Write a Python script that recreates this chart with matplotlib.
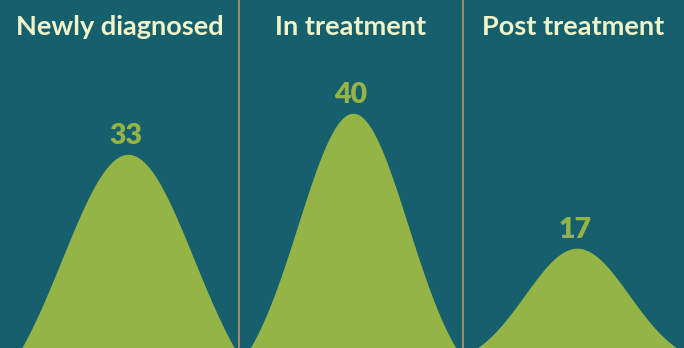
import numpy as np
import matplotlib
matplotlib.use("Agg")
import matplotlib.pyplot as plt

# data
stages = ["Newly diagnosed", "In treatment", "Post treatment"]
values = [33, 40, 17]

# layout / style (pixels, figure is 684 x 348)
W, H = 684, 348
edges = [0, 239, 463, 684]
peak_x = [128, 353, 577]
sigma = [66, 55, 52]
sink = [12.4, 8.4, 3.2]      # curve baseline sits below the frame
ymax = 59.3

bg = "#16606e"
green = "#95b446"
cream = "#f1f3c8"
divider = "#b08f6a"

plt.rcParams["font.family"] = ["Lato", "DejaVu Sans"]

fig = plt.figure(figsize=(W / 100, H / 100), dpi=100)
fig.patch.set_facecolor(bg)
ax = fig.add_axes([0, 0, 1, 1])
ax.set_facecolor(bg)
ax.set_xlim(0, W)
ax.set_ylim(0, ymax)
ax.axis("off")

for i, (name, v) in enumerate(zip(stages, values)):
    x = np.linspace(edges[i], edges[i + 1], 400)
    y = (v + sink[i]) * np.exp(-(x - peak_x[i]) ** 2 / (2 * sigma[i] ** 2)) - sink[i]
    y = np.clip(y, 0, None)
    ax.fill_between(x, 0, y, color=green, lw=0)
    ax.annotate(str(v), (peak_x[i] - 2, v), xytext=(0, 7.5), textcoords="offset points",
                ha="center", va="baseline", color=green, fontsize=20.5, fontweight="heavy")
    ax.text((edges[i] + edges[i + 1]) / 2, 1 - 27 / H, name, transform=ax.get_xaxis_transform(),
            ha="center", va="center", color=cream, fontsize=19.5, fontweight="bold")

for e in edges[1:-1]:
    ax.axvline(e, color=divider, lw=1.3)

fig.savefig("out.png", dpi=100, facecolor=bg)
